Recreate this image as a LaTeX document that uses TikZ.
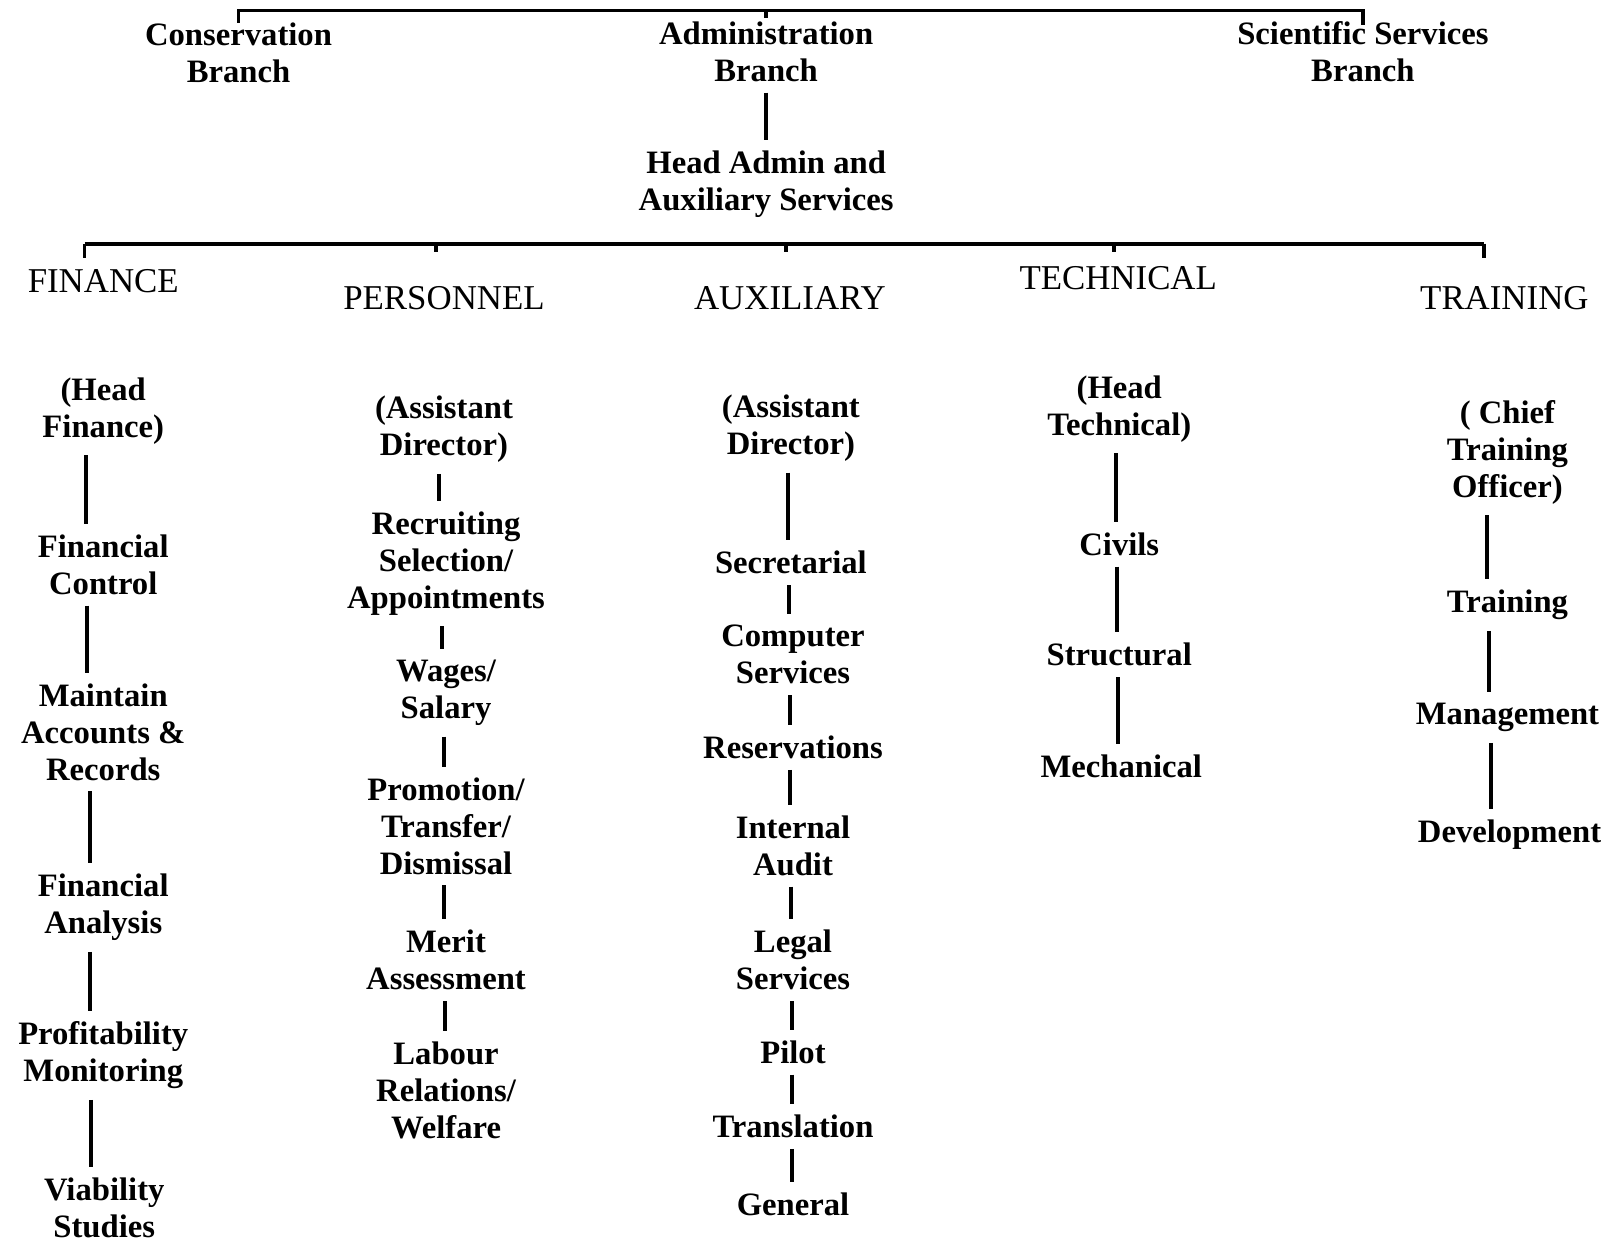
\documentclass[tikz,border=0pt]{standalone}
\usepackage{fontspec}
\setmainfont{Liberation Serif}
\usetikzlibrary{positioning, calc}

\begin{document}
\begin{tikzpicture}[x=0.1mm, y=-0.1mm, line width=1pt,
    post/.style={font=\fontsize{9}{10.2}\selectfont\bfseries, align=center, inner sep=2.5pt},
    dept/.style={font=\fontsize{9.6}{10.2}\selectfont, inner sep=2.5pt}]
    \useasboundingbox (0,0) rectangle (1568,1204);

    % branches
    \node[post] (cons)  at (231,51)  {Conservation\\Branch};
    \node[post] (admin) at (742,50)  {Administration\\Branch};
    \node[post] (sci)   at (1320,50) {Scientific Services\\Branch};
    \node[post] (head)  at (742,178) {Head Admin and\\Auxiliary Services};
    \coordinate (topbar) at (742,10);
    \draw ([yshift=-3pt]cons.north) |- (topbar) -| ([yshift=-4pt]sci.north);
    \draw (topbar) -- ([yshift=-2pt]admin.north);
    \draw (admin) -- (head);

    % sections
    \node[dept] (fin) at (100,272)  {FINANCE};
    \node[dept] (per) at (430,289)  {PERSONNEL};
    \node[dept] (aux) at (765,289)  {AUXILIARY};
    \node[dept] (tec) at (1083,269) {TECHNICAL};
    \node[dept] (tra) at (1457,289) {TRAINING};
    \foreach \n/\x/\len in {fin/82/14, per/422/8, aux/761/8, tec/1079/8, tra/1437/14} {
      \coordinate (t\n) at (\x,236);
      \draw (t\n) -- ++(0,\len);
    }
    \draw (tfin) -- (ttra);

    % finance
    \node[post] (f1) at (100,398)  {(Head\\Finance)};
    \node[post] (f2) at (100,547)  {Financial\\Control};
    \node[post] (f3) at (100,709)  {Maintain\\Accounts \&\\Records};
    \node[post] (f4) at (100,879)  {Financial\\Analysis};
    \node[post] (f5) at (100,1022) {Profitability\\Monitoring};
    \node[post] (f6) at (101,1170) {Viability\\Studies};

    % personnel
    \node[post] (p1) at (430,416)  {(Assistant\\Director)};
    \node[post] (p2) at (432,546)  {Recruiting\\Selection/\\Appointments};
    \node[post] (p3) at (432,671)  {Wages/\\Salary};
    \node[post] (p4) at (432,800)  {Promotion/\\Transfer/\\Dismissal};
    \node[post] (p5) at (432,930)  {Merit\\Assessment};
    \node[post] (p6) at (432,1056) {Labour\\Relations/\\Welfare};

    % auxiliary
    \node[post] (a1) at (766,415)  {(Assistant\\Director)};
    \node[post] (a2) at (766,545)  {Secretarial};
    \node[post] (a3) at (768,634)  {Computer\\Services};
    \node[post] (a4) at (768,724)  {Reservations};
    \node[post] (a5) at (768,819)  {Internal\\Audit};
    \node[post] (a6) at (768,930)  {Legal\\Services};
    \node[post] (a7) at (768,1019) {Pilot};
    \node[post] (a8) at (768,1091) {Translation};
    \node[post] (a9) at (768,1166) {General};

    % technical
    \node[post] (t1) at (1084,396) {(Head\\Technical)};
    \node[post] (t2) at (1084,527) {Civils};
    \node[post] (t3) at (1084,634) {Structural};
    \node[post] (t4) at (1086,742) {Mechanical};

    % training
    \node[post] (r1) at (1460,438) {( Chief\\Training\\Officer)};
    \node[post] (r2) at (1460,586) {Training};
    \node[post] (r3) at (1460,695) {Management};
    \node[post] (r4) at (1462,808) {Development};

    \foreach \a/\b/\s in {f1/f2/-17, f2/f3/-16, f3/f4/-13, f4/f5/-13, f5/f6/-12,
                          p1/p2/-5, p2/p3/-4, p3/p4/-2, p4/p5/-2, p5/p6/-1,
                          a1/a2/-3, a2/a3/-2, a3/a4/-3, a4/a5/-3, a5/a6/-2, a6/a7/-1, a7/a8/-1, a8/a9/-1,
                          t1/t2/-3, t2/t3/-2, t3/t4/-1,
                          r1/r2/-20, r2/r3/-18, r3/r4/-16} {
      \draw ($(\a.south)+(\s,0)$) -- ($(\a.south |- \b.north)+(\s,0)$);
    }
\end{tikzpicture}
\end{document}
